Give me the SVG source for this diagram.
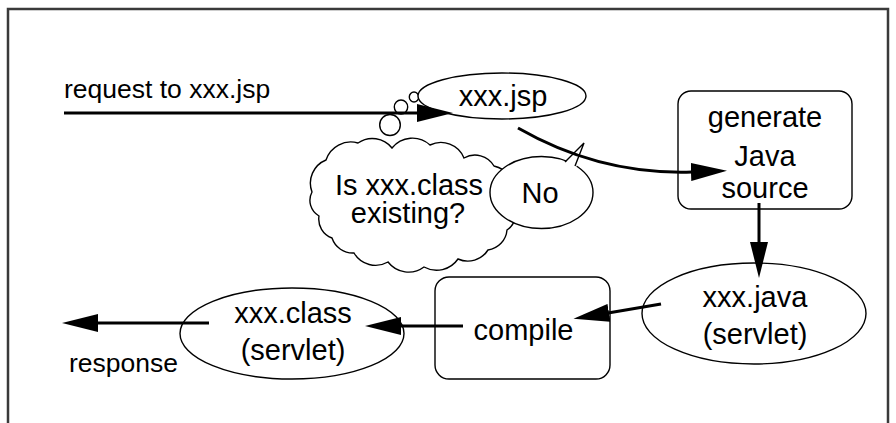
<svg xmlns="http://www.w3.org/2000/svg" width="896" height="423" viewBox="0 0 896 423">
<style>
.shape{fill:#fff;stroke:#000;stroke-width:1.4}
.conn{fill:none;stroke:#000;stroke-width:3}
.node{font-family:"Liberation Sans",Arial,sans-serif;font-size:29px;fill:#000;text-anchor:middle}
.label{font-family:"Liberation Sans",Arial,sans-serif;font-size:26.5px;fill:#000}
</style>
<defs>
<marker id="ah" viewBox="0 -9 36 18" refX="1" refY="0" markerWidth="36" markerHeight="18" markerUnits="userSpaceOnUse" orient="auto">
<path d="M0,-9 L36,0 L0,9 Z" fill="#000"/>
</marker>
</defs>
<g id="frame" fill="none" stroke="#3a3a3a" stroke-width="2.5">
<path d="M8,423 V9 H888 V423"/>
</g>
<g id="labels">
<text class="label" x="64" y="98">request to xxx.jsp</text>
<text class="label" x="69" y="372">response</text>
</g>
<g id="thought">
<path class="shape" d="M312,192 A25,25 0 0 1 326,160 A26,26 0 0 1 358,143 A25,25 0 0 1 392,148 A26,26 0 0 1 430,145 A25,25 0 0 1 464,158 A22,22 0 0 1 494,166 A26,26 0 0 1 512,202 A20,20 0 0 1 507,230 A22,22 0 0 1 488,250 A24,24 0 0 1 458,259 A26,26 0 0 1 424,267 A26,26 0 0 1 388,262 A25,25 0 0 1 354,253 A22,22 0 0 1 332,238 A20,20 0 0 1 319,216 A18,18 0 0 1 312,192 Z"/>
<ellipse class="shape" cx="390" cy="125" rx="10.3" ry="10.5"/>
<ellipse class="shape" cx="401" cy="107" rx="6.7" ry="7"/>
<ellipse class="shape" cx="414" cy="97" rx="4.7" ry="5"/>
<text class="node" x="409" y="195">Is xxx.class</text>
<text class="node" x="408" y="223">existing?</text>
</g>
<g id="no">
<ellipse class="shape" cx="541.5" cy="192.5" rx="51.5" ry="36"/>
<path d="M563,165 L584,143 L576,168 Z" fill="#fff" stroke="none"/>
<path d="M565,162 L584,143 L575,166" fill="none" stroke="#000" stroke-width="1.4"/>
<text class="node" x="540" y="203">No</text>
</g>
<g id="jsp">
<ellipse class="shape" cx="502" cy="96" rx="84" ry="23"/>
<text class="node" x="503" y="106">xxx.jsp</text>
</g>
<g id="generate">
<rect class="shape" x="678" y="91" width="174" height="118" rx="13"/>
<text class="node" x="765" y="127">generate</text>
<text class="node" x="765" y="166">Java</text>
<text class="node" x="765" y="198">source</text>
</g>
<g id="java">
<ellipse class="shape" cx="754" cy="313.5" rx="112" ry="50.5"/>
<text class="node" x="755" y="307">xxx.java</text>
<text class="node" x="755" y="344">(servlet)</text>
</g>
<g id="compile">
<rect class="shape" x="435" y="277" width="175" height="102" rx="14"/>
<text class="node" x="523.5" y="340">compile</text>
</g>
<g id="class">
<ellipse class="shape" cx="292" cy="333.5" rx="112" ry="45.5"/>
<text class="node" x="293" y="323">xxx.class</text>
<text class="node" x="293" y="360">(servlet)</text>
</g>
<g id="connectors">
<path class="conn" d="M64,113 H418" marker-end="url(#ah)"/>
<path class="conn" d="M518,128 Q600,175 692,172" marker-end="url(#ah)"/>
<path class="conn" d="M759,203 V243" marker-end="url(#ah)"/>
<path class="conn" d="M661,304 L608,313" marker-end="url(#ah)"/>
<path class="conn" d="M463,326 H400" marker-end="url(#ah)"/>
<path class="conn" d="M209,323 H97" marker-end="url(#ah)"/>
</g>
</svg>
